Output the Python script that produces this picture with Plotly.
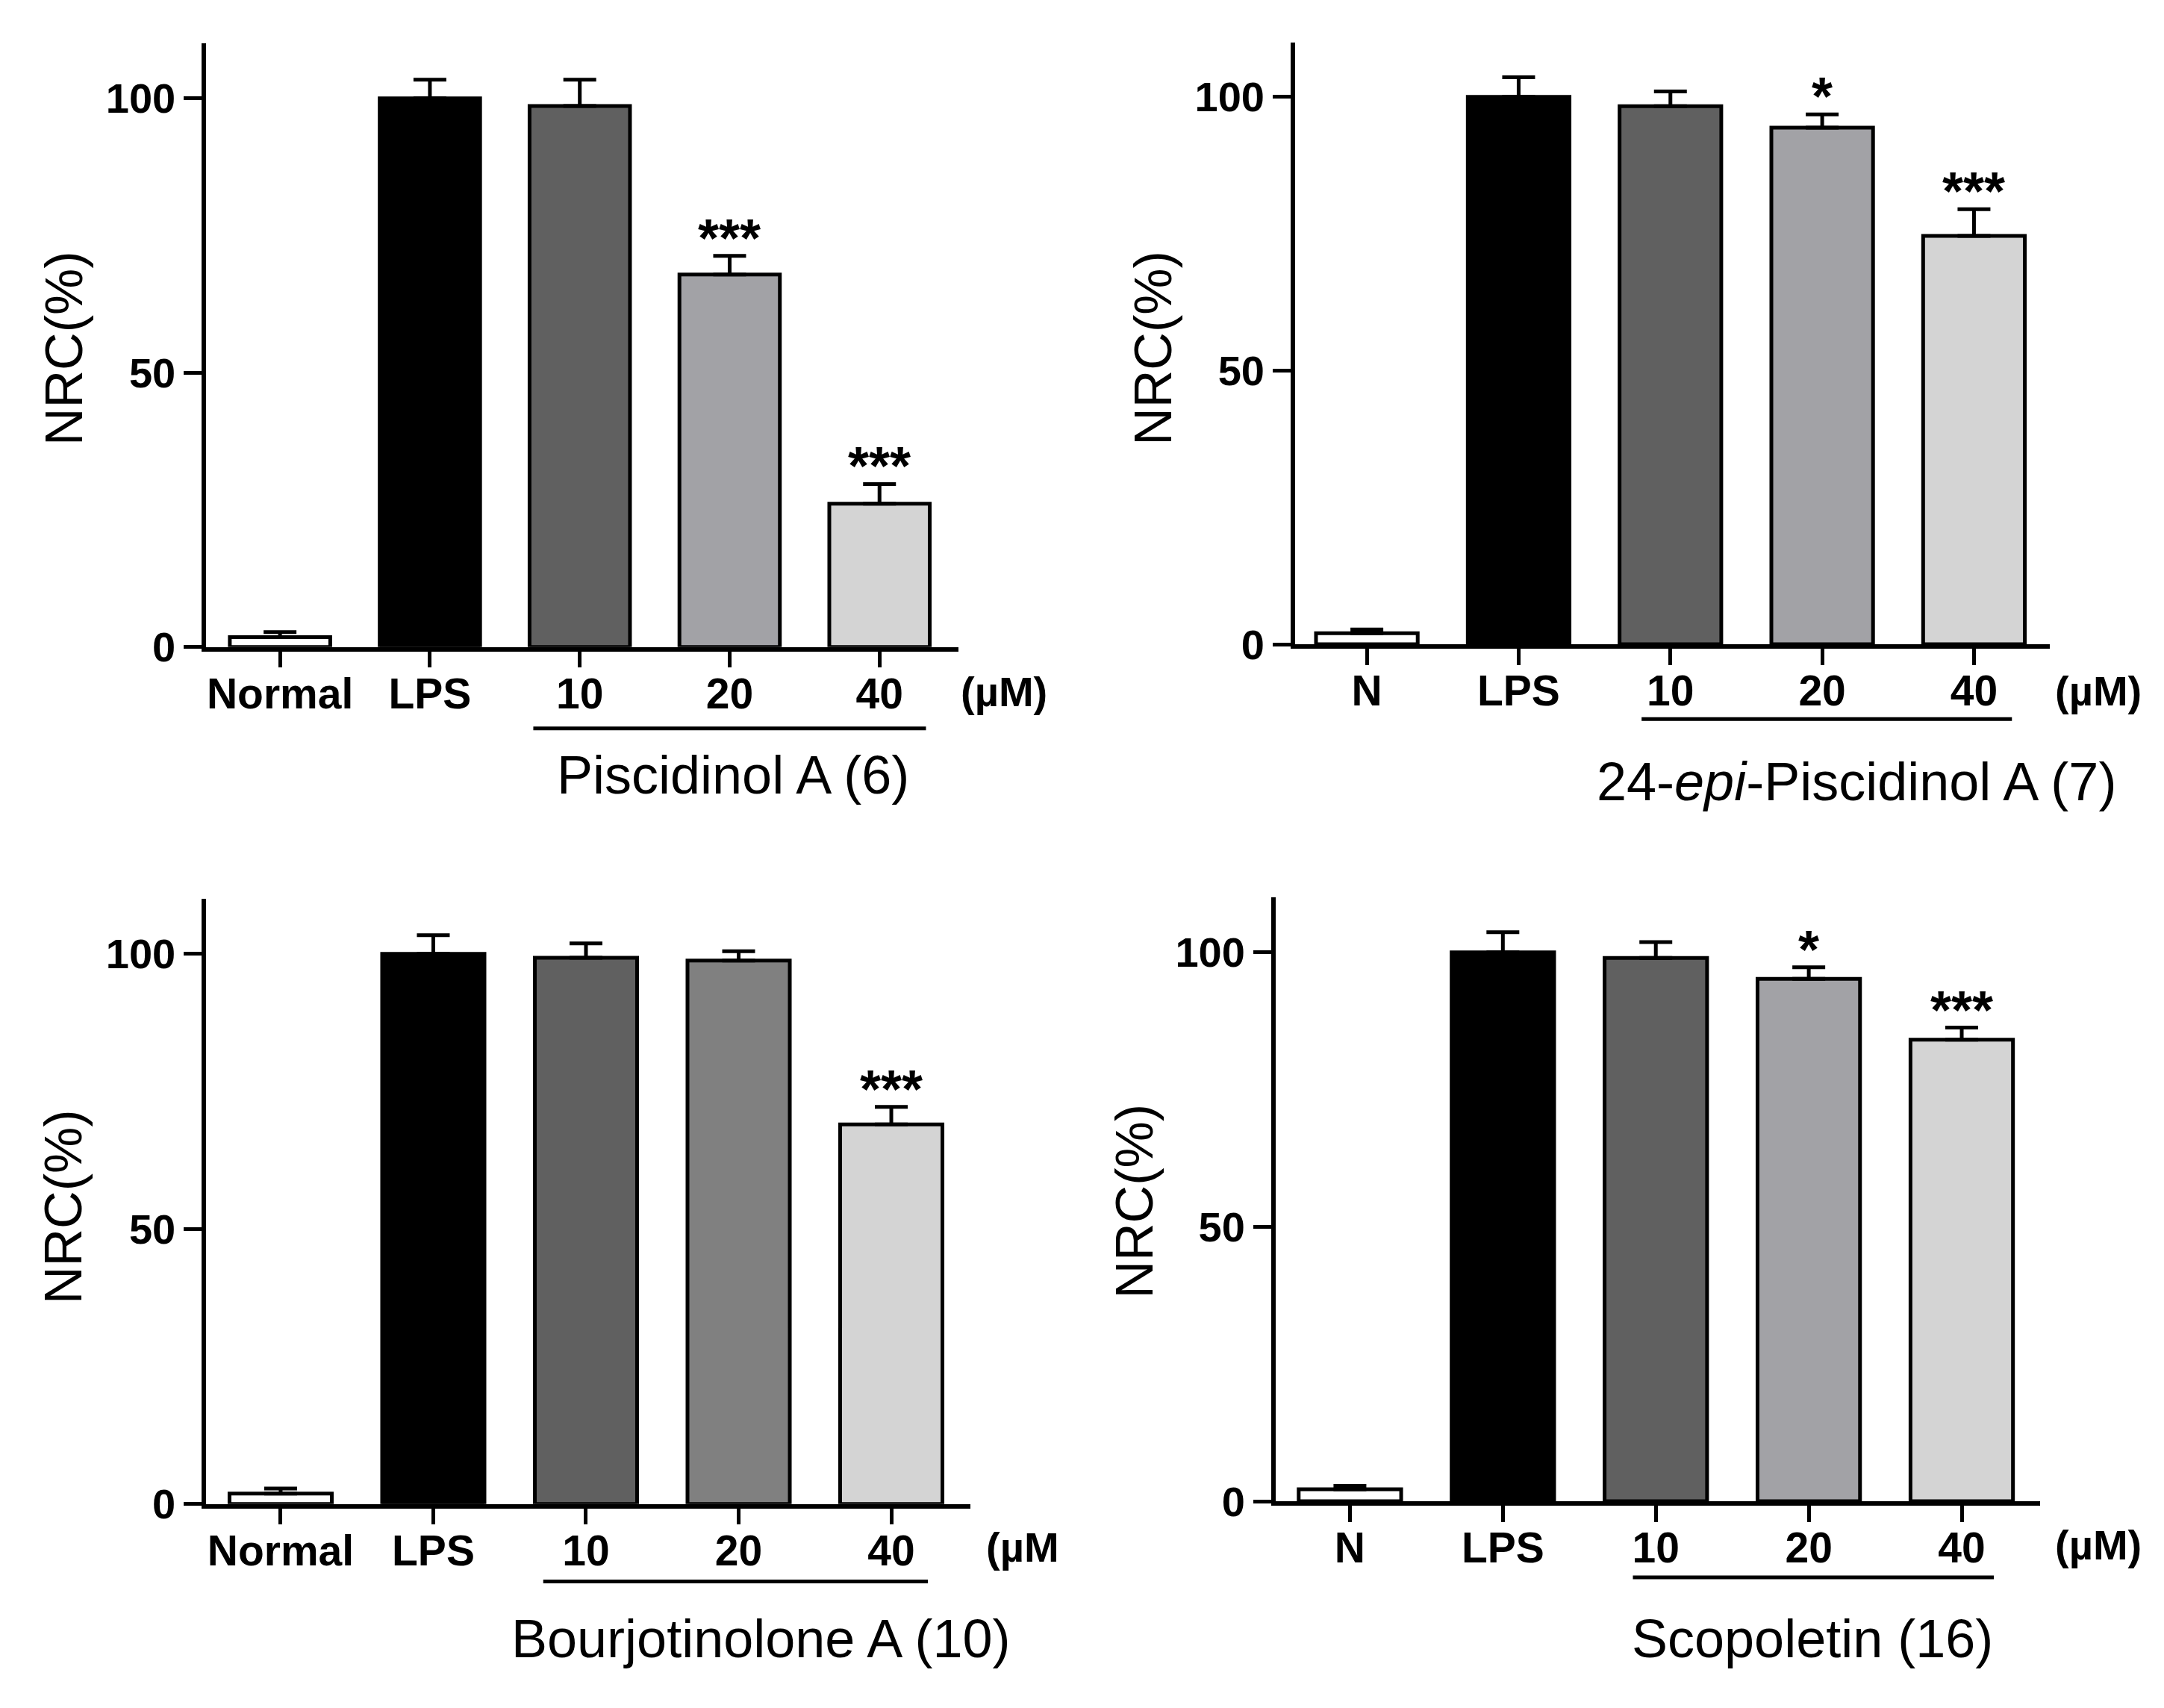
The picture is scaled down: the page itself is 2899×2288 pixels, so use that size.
import plotly.graph_objects as go

# categories
cats_normal = ["Normal", "LPS", "10", "20", "40"]
cats_n = ["N", "LPS", "10", "20", "40"]

# NRC (%) means and SEM
piscidinol_vals = [1.8, 100, 98.6, 67.9, 26.1]
piscidinol_err = [0.9, 3.4, 4.8, 3.4, 3.6]
piscidinol_sig = ["", "", "", "***", "***"]

epi_vals = [2.0, 100, 98.3, 94.4, 74.6]
epi_err = [0.7, 3.6, 2.7, 2.4, 4.9]
epi_sig = ["", "", "", "*", "***"]

bourj_vals = [1.9, 100, 99.3, 98.8, 69.0]
bourj_err = [0.9, 3.4, 2.6, 1.7, 3.2]
bourj_sig = ["", "", "", "", "***"]

scop_vals = [2.2, 100, 99.0, 95.2, 84.1]
scop_err = [0.6, 3.7, 2.9, 2.1, 2.2]
scop_sig = ["", "", "", "*", "***"]

colors_a = ["#ffffff", "#000000", "#606060", "#a2a2a6", "#d4d4d4"]
colors_b = ["#ffffff", "#000000", "#606060", "#808080", "#d4d4d4"]

FONT = "Arial, Liberation Sans, sans-serif"

panels = [
    dict(cats=cats_normal, vals=piscidinol_vals, err=piscidinol_err, sig=piscidinol_sig,
         colors=colors_a, title="Piscidinol A (6)", unit="(µM)",
         xdom=[0.0925, 0.4401], ydom=[0.6194, 0.9777], xr=[-0.493, 4.526],
         unit_xy=(0.4611, 0.5927, "center"), title_xy=(0.3361, 0.5435),
         ylab_xy=(0.0271, 0.7968), line=(1.69, 4.31, 0.5710)),
    dict(cats=cats_n, vals=epi_vals, err=epi_err, sig=epi_sig,
         colors=colors_a, title="24-<i>epi</i>-Piscidinol A (7)", unit="(µM)",
         xdom=[0.5957, 0.9445], ydom=[0.6210, 0.9785], xr=[-0.473, 4.5],
         unit_xy=(0.9668, 0.5935, "center"), title_xy=(0.8552, 0.5395),
         ylab_xy=(0.5303, 0.7968), line=(1.81, 4.25, 0.5766)),
    dict(cats=cats_normal, vals=bourj_vals, err=bourj_err, sig=bourj_sig,
         colors=colors_b, title="Bourjotinolone A (10)", unit="(µM",
         xdom=[0.0925, 0.4458], ydom=[0.1105, 0.4698], xr=[-0.488, 4.52],
         unit_xy=(0.4522, 0.0847, "left"), title_xy=(0.3489, 0.0306),
         ylab_xy=(0.0268, 0.2871), line=(1.72, 4.24, 0.0645)),
    dict(cats=cats_n, vals=scop_vals, err=scop_err, sig=scop_sig,
         colors=colors_a, title="Scopoletin (16)", unit="(µM)",
         xdom=[0.5867, 0.9401], ydom=[0.1121, 0.4706], xr=[-0.486, 4.514],
         unit_xy=(0.9668, 0.0863, "center"), title_xy=(0.8348, 0.0306),
         ylab_xy=(0.5217, 0.2903), line=(1.85, 4.21, 0.0669)),
]

fig = go.Figure()
annotations = []
shapes = []

for i, p in enumerate(panels):
    n = "" if i == 0 else str(i + 1)
    xname, yname = "x" + n, "y" + n
    fig.add_trace(go.Bar(
        x=p["cats"], y=p["vals"], xaxis=xname, yaxis=yname,
        width=0.67,
        marker=dict(color=p["colors"], line=dict(color="black", width=5)),
        error_y=dict(type="data", symmetric=False, array=p["err"],
                     arrayminus=[0] * len(p["err"]),
                     color="black", thickness=5, width=22),
    ))
    fig.layout["xaxis" + n] = dict(
        domain=p["xdom"], anchor=yname, type="category", range=p["xr"],
        showline=True, linecolor="black", linewidth=5.5,
        ticks="outside", ticklen=22, tickwidth=5, tickcolor="black",
        ticklabelstandoff=-14,
        tickfont=dict(family=FONT, size=57, color="black", weight=700),
        showgrid=False, zeroline=False,
    )
    fig.layout["yaxis" + n] = dict(
        domain=p["ydom"], anchor=xname, range=[0, 110],
        tickvals=[0, 50, 100],
        showline=True, linecolor="black", linewidth=5.5,
        ticks="outside", ticklen=24, tickwidth=5, tickcolor="black",
        tickfont=dict(family=FONT, size=56, color="black", weight=700),
        showgrid=False, zeroline=False,
    )
    # significance marks (x given as category index)
    for k, (v, e, s) in enumerate(zip(p["vals"], p["err"], p["sig"])):
        if s:
            annotations.append(dict(
                x=k, y=v + e, xref=xname, yref=yname, text=s, showarrow=False,
                yanchor="bottom", yshift=-18,
                font=dict(family=FONT, size=72, color="black", weight=700)))
    ux, uy, ua = p["unit_xy"]
    annotations.append(dict(
        x=ux, y=uy, xref="paper", yref="paper", text=p["unit"], showarrow=False,
        xanchor=ua, yanchor="middle",
        font=dict(family=FONT, size=56, color="black", weight=700)))
    tx, ty = p["title_xy"]
    annotations.append(dict(
        x=tx, y=ty, xref="paper", yref="paper", text=p["title"], showarrow=False,
        xanchor="center", yanchor="middle",
        font=dict(family=FONT, size=72, color="black")))
    lx, ly = p["ylab_xy"]
    annotations.append(dict(
        x=lx, y=ly, xref="paper", yref="paper", text="NRC(%)", showarrow=False,
        textangle=-90, xanchor="center", yanchor="middle",
        font=dict(family=FONT, size=70, color="black")))
    x0, x1, yl = p["line"]
    shapes.append(dict(type="line", xref=xname, yref="paper", x0=x0, x1=x1,
                       y0=yl, y1=yl, line=dict(color="black", width=5)))

fig.update_layout(
    width=2899, height=2288,
    margin=dict(l=0, r=0, t=0, b=0),
    paper_bgcolor="white", plot_bgcolor="white",
    showlegend=False,
    annotations=annotations, shapes=shapes,
    font=dict(family=FONT, color="black"),
)

fig.write_html("out.html")
